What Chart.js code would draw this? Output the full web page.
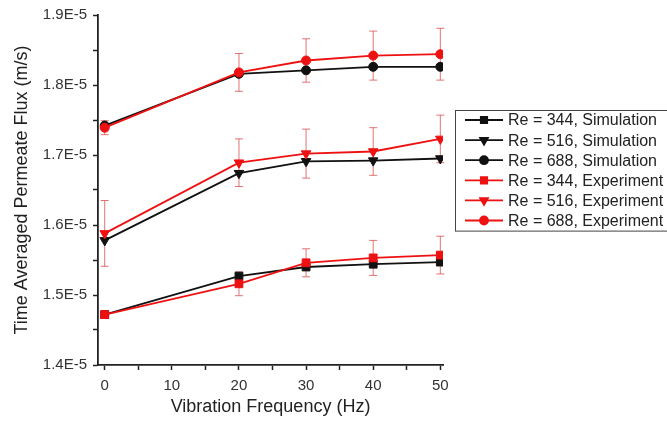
<!DOCTYPE html>
<html>
<head>
<meta charset="utf-8">
<script src="https://cdn.jsdelivr.net/npm/chart.js@4.4.0/dist/chart.umd.min.js"></script>
<style>
  html, body { margin: 0; padding: 0; background: #fff; }
  #wrap { width: 667px; height: 427px; }
</style>
</head>
<body>
<div id="wrap"><canvas id="chart"></canvas></div>
<script>
// vibration frequency (Hz)
const freq = [0, 20, 30, 40, 50];

// simulation (black)
const sim344 = [1.472e-5, 1.527e-5, 1.540e-5, 1.544e-5, 1.547e-5];
const sim516 = [1.578e-5, 1.674e-5, 1.691e-5, 1.692e-5, 1.695e-5];
const sim688 = [1.742e-5, 1.816e-5, 1.821e-5, 1.826e-5, 1.826e-5];

// experiment (red) and its error bars
const exp344 = [1.472e-5, 1.516e-5, 1.546e-5, 1.553e-5, 1.557e-5];
const exp516 = [1.588e-5, 1.689e-5, 1.702e-5, 1.705e-5, 1.723e-5];
const exp688 = [1.739e-5, 1.818e-5, 1.835e-5, 1.842e-5, 1.844e-5];
const err344 = [0.000e-5, 0.017e-5, 0.020e-5, 0.025e-5, 0.027e-5];
const err516 = [0.047e-5, 0.034e-5, 0.035e-5, 0.034e-5, 0.034e-5];
const err688 = [0.010e-5, 0.027e-5, 0.031e-5, 0.035e-5, 0.037e-5];

const xTicks = [0, 5, 10, 15, 20, 25, 30, 35, 40, 45, 50];
const yTicks = [1.40e-5, 1.45e-5, 1.50e-5, 1.55e-5, 1.60e-5, 1.65e-5, 1.70e-5, 1.75e-5, 1.80e-5, 1.85e-5, 1.90e-5];

const black = '#111111';
const red = '#ee1111';

function pts(ys) {
  return freq.map((x, i) => ({ x: x, y: ys[i] }));
}

function series(label, ys, color, style, err, order) {
  return {
    label: label,
    data: pts(ys),
    err: err,
    borderColor: color,
    backgroundColor: color,
    borderWidth: 1.8,
    pointStyle: style,
    pointRotation: style === 'triangle' ? 180 : 0,
    pointRadius: style === 'circle' ? 4.5 : 5.5,
    pointBorderWidth: 1,
    order: order
  };
}

const errorBars = {
  id: 'errorBars',
  beforeDatasetsDraw(chart) {
    const ctx = chart.ctx;
    const xs = chart.scales.x, ys = chart.scales.y;
    ctx.save();
    ctx.strokeStyle = 'rgba(220,80,80,0.8)';
    ctx.lineWidth = 1;
    chart.data.datasets.forEach(ds => {
      if (!ds.err) return;
      ds.data.forEach((p, i) => {
        const e = ds.err[i];
        if (!e) return;
        const x = xs.getPixelForValue(p.x);
        const y1 = ys.getPixelForValue(p.y + e);
        const y2 = ys.getPixelForValue(p.y - e);
        ctx.beginPath();
        ctx.moveTo(x, y1); ctx.lineTo(x, y2);
        ctx.moveTo(x - 4, y1); ctx.lineTo(x + 4, y1);
        ctx.moveTo(x - 4, y2); ctx.lineTo(x + 4, y2);
        ctx.stroke();
      });
    });
    ctx.restore();
  }
};

const boxLegend = {
  id: 'boxLegend',
  afterDraw(chart) {
    const ctx = chart.ctx;
    const left = chart.chartArea.right + 12;
    const top = 110;
    const rowH = 20.1;
    const list = chart.data.datasets.slice().sort((a, b) => a.legendIndex - b.legendIndex);
    ctx.save();
    ctx.strokeStyle = '#444';
    ctx.lineWidth = 1;
    ctx.strokeRect(left + 0.5, top + 0.5, 260, rowH * list.length);
    ctx.font = '16px "Liberation Sans", Arial, sans-serif';
    ctx.textBaseline = 'middle';
    list.forEach((ds, i) => {
      const y = top + 10 + i * rowH;
      ctx.strokeStyle = ds.borderColor;
      ctx.lineWidth = 1.8;
      ctx.beginPath();
      ctx.moveTo(left + 10, y);
      ctx.lineTo(left + 48, y);
      ctx.stroke();
      ctx.fillStyle = ds.backgroundColor;
      Chart.helpers.drawPoint(ctx, {
        pointStyle: ds.pointStyle,
        rotation: ds.pointRotation,
        radius: ds.pointStyle === 'circle' ? 4 : 4.5,
        borderWidth: 1
      }, left + 29, y);
      ctx.fillStyle = '#222';
      ctx.fillText(ds.label, left + 53, y + 1);
    });
    ctx.restore();
  }
};

const datasets = [
  series('Re = 344, Simulation', sim344, black, 'rect', null, 1),
  series('Re = 516, Simulation', sim516, black, 'triangle', null, 1),
  series('Re = 688, Simulation', sim688, black, 'circle', null, 1),
  series('Re = 344, Experiment', exp344, red, 'rect', err344, 0),
  series('Re = 516, Experiment', exp516, red, 'triangle', err516, 0),
  series('Re = 688, Experiment', exp688, red, 'circle', err688, 0)
];
datasets.forEach((ds, i) => ds.legendIndex = i);

const tickFont = { family: '"Liberation Sans", Arial, sans-serif', size: 15 };
const titleFont = { family: '"Liberation Sans", Arial, sans-serif', size: 18 };

new Chart(document.querySelector('#chart').getContext('2d'), {
  type: 'line',
  data: { datasets: datasets },
  plugins: [errorBars, boxLegend],
  options: {
    responsive: true,
    maintainAspectRatio: false,
    animation: false,
    layout: { padding: { left: 6, top: 14, right: 224, bottom: 6 } },
    plugins: {
      legend: { display: false },
      tooltip: { enabled: false }
    },
    scales: {
      x: {
        type: 'linear',
        min: -1,
        max: 50.4,
        afterBuildTicks: s => { s.ticks = xTicks.map(v => ({ value: v })); },
        afterFit: s => { s.height = 56; },
        ticks: {
          color: '#333',
          font: tickFont,
          padding: 7,
          autoSkip: false,
          maxRotation: 0,
          callback: v => (v % 10 === 0 ? String(v) : '')
        },
        grid: { drawOnChartArea: false, drawTicks: true, tickLength: 5, tickColor: '#222', tickWidth: 1.5 },
        border: { display: true, color: '#222', width: 1.8 },
        title: { display: true, text: 'Vibration Frequency (Hz)', color: '#222', font: titleFont, padding: { top: 4, bottom: 3 } }
      },
      y: {
        min: 1.4e-5,
        max: 1.9e-5,
        afterBuildTicks: s => { s.ticks = yTicks.map(v => ({ value: v })); },
        afterFit: s => { s.width = 92; },
        ticks: {
          color: '#333',
          font: tickFont,
          padding: 6,
          autoSkip: false,
          callback: v => {
            const t = Math.round(v * 1e7);
            return t % 10 === 0 ? (t / 100).toFixed(1) + 'E-5' : '';
          }
        },
        grid: { drawOnChartArea: false, drawTicks: true, tickLength: 5, tickColor: '#222', tickWidth: 1.5 },
        border: { display: true, color: '#222', width: 1.8 },
        title: { display: true, text: 'Time Averaged Permeate Flux (m/s)', color: '#222', font: titleFont, padding: { top: 5, bottom: 4 } }
      }
    }
  }
});
</script>
</body>
</html>
